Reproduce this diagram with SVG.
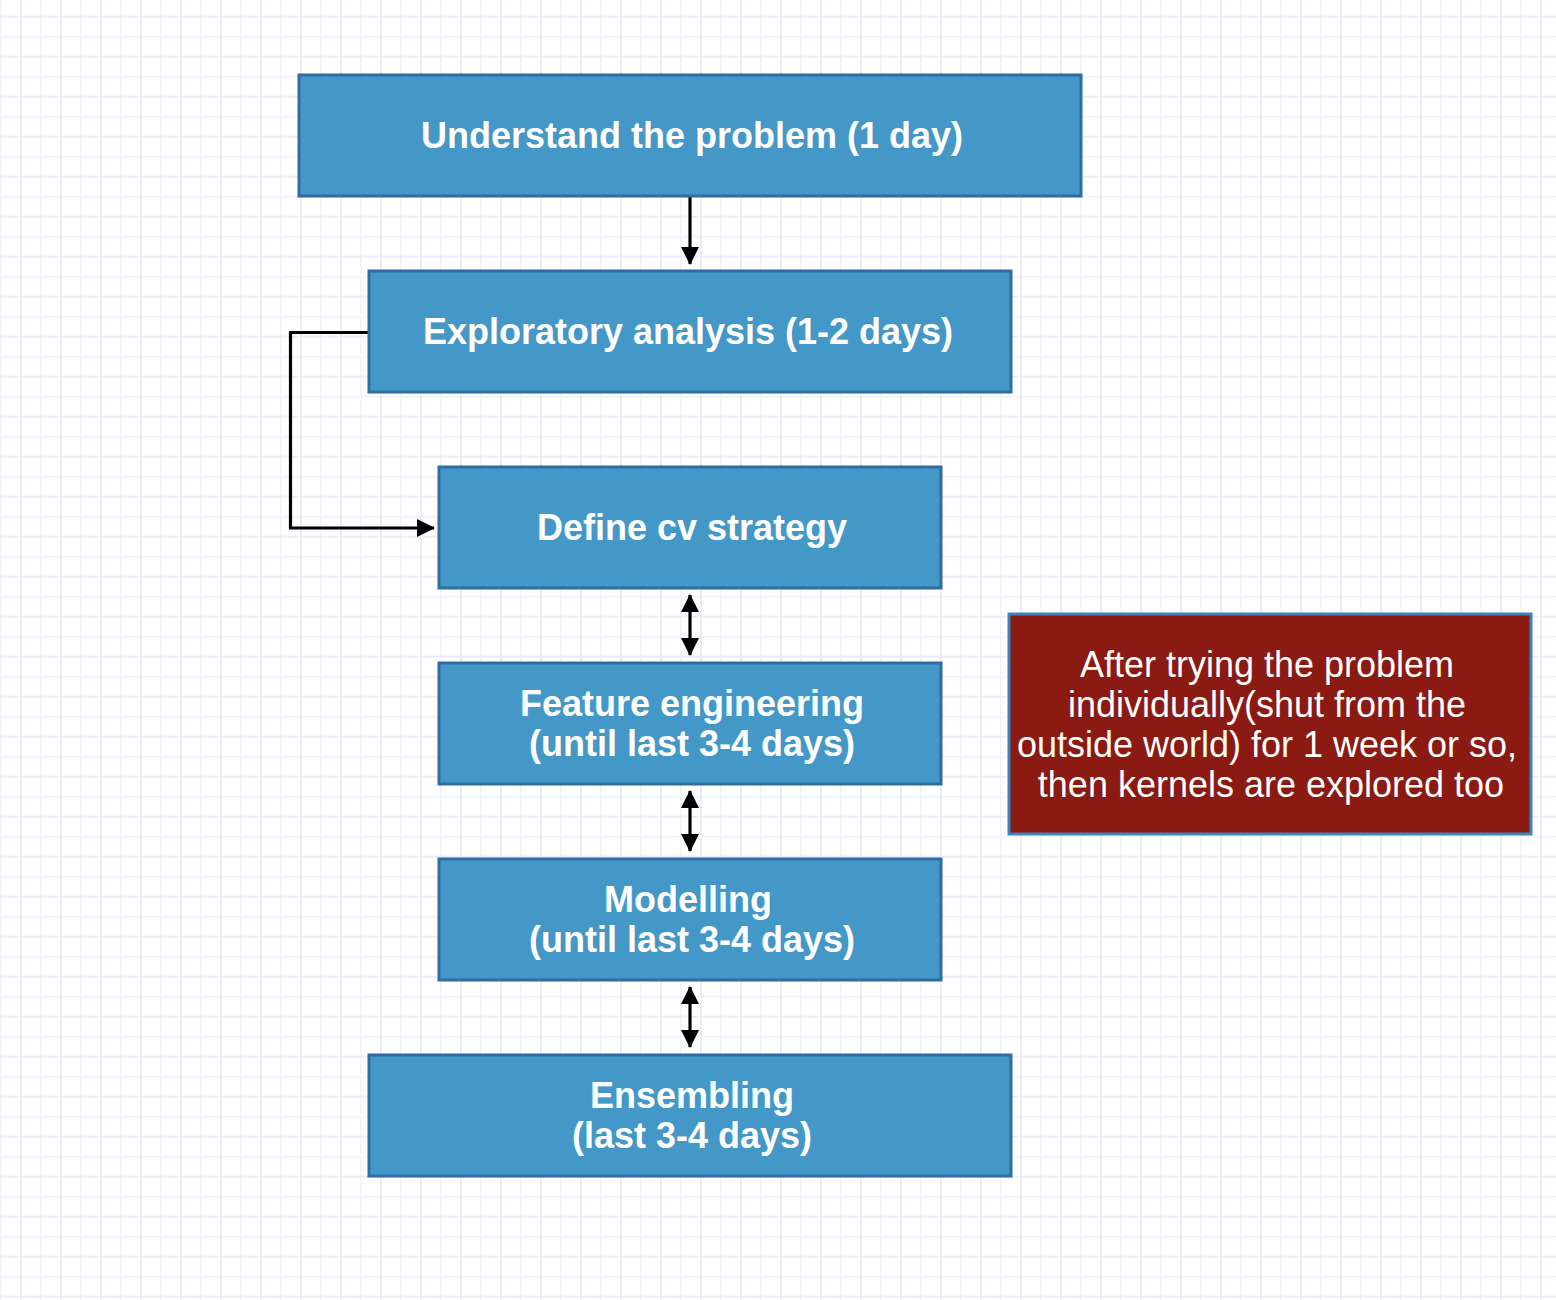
<svg xmlns="http://www.w3.org/2000/svg" width="1556" height="1300" viewBox="0 0 1556 1300">
<defs>
<pattern id="grid" patternUnits="userSpaceOnUse" x="1" y="-3.3" width="40" height="40">
<rect width="40" height="40" fill="#ffffff"/>
<path d="M0 0V40M40 0V40M0 0H40M0 40H40" stroke="#f3f3fc" stroke-width="2" fill="none"/>
<path d="M20 0V40M0 20H40" stroke="#ebebf9" stroke-width="2" fill="none"/>
</pattern>
<marker id="ah" viewBox="0 0 18 18" refX="17" refY="9" markerWidth="18" markerHeight="18" markerUnits="userSpaceOnUse" orient="auto-start-reverse">
<path d="M0 0L18 9L0 18Z" fill="#000"/>
</marker>
</defs>
<style>
.box{fill:#4398c7;stroke:#2e6ca3;stroke-width:3}
.note{fill:#8b1a12;stroke:#3d84bd;stroke-width:3}
.t{font-family:"Liberation Sans",Arial,sans-serif;font-weight:bold;font-size:36px;fill:#ffffff;text-anchor:middle}
.n{font-family:"Liberation Sans",Arial,sans-serif;font-size:36px;fill:#ffffff;text-anchor:middle}
.c{fill:none;stroke:#000;stroke-width:3.2}
</style>
<rect width="1556" height="1300" fill="url(#grid)"/>
<g id="connectors">
<path class="c" d="M690 197V264" marker-end="url(#ah)"/>
<path class="c" d="M369 332.5H290.5V528H434" marker-end="url(#ah)"/>
<path class="c" d="M690 595V655" marker-start="url(#ah)" marker-end="url(#ah)"/>
<path class="c" d="M690 791V851" marker-start="url(#ah)" marker-end="url(#ah)"/>
<path class="c" d="M690 987V1047" marker-start="url(#ah)" marker-end="url(#ah)"/>
</g>
<g id="n1">
<rect class="box" x="299" y="75" width="782" height="121"/>
<text class="t" x="692" y="148">Understand the problem (1 day)</text>
</g>
<g id="n2">
<rect class="box" x="369" y="271" width="642" height="121"/>
<text class="t" x="688" y="344">Exploratory analysis (1-2 days)</text>
</g>
<g id="n3">
<rect class="box" x="439" y="467" width="502" height="121"/>
<text class="t" x="692" y="540">Define cv strategy</text>
</g>
<g id="n4">
<rect class="box" x="439" y="663" width="502" height="121"/>
<text class="t" x="692" y="716">Feature engineering</text>
<text class="t" x="692" y="756">(until last 3-4 days)</text>
</g>
<g id="n5">
<rect class="box" x="439" y="859" width="502" height="121"/>
<text class="t" x="688" y="912">Modelling</text>
<text class="t" x="692" y="952">(until last 3-4 days)</text>
</g>
<g id="n6">
<rect class="box" x="369" y="1055" width="642" height="121"/>
<text class="t" x="692" y="1108">Ensembling</text>
<text class="t" x="692" y="1148">(last 3-4 days)</text>
</g>
<g id="note">
<rect class="note" x="1009" y="614" width="522" height="220"/>
<text class="n" x="1267" y="677">After trying the problem</text>
<text class="n" x="1267" y="717">individually(shut from the</text>
<text class="n" x="1267" y="757">outside world) for 1 week or so,</text>
<text class="n" x="1271" y="797">then kernels are explored too</text>
</g>
</svg>
